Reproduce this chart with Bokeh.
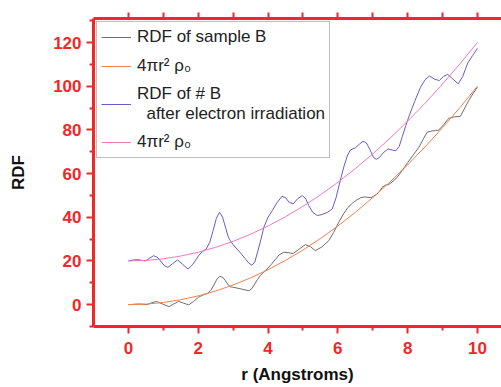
from bokeh.plotting import figure
from bokeh.models import Range1d, LinearAxis, Legend, LegendItem, FixedTicker
from bokeh.embed import file_html
from bokeh.resources import INLINE

# ---- data ----
r_gray = [0.0, 0.17, 0.34, 0.53, 0.66, 0.80, 0.98, 1.16, 1.30, 1.44, 1.58, 1.73, 1.87, 2.01,
          2.15, 2.27, 2.36, 2.45, 2.54, 2.62, 2.70, 2.78, 2.86, 2.92, 3.02, 3.11, 3.28, 3.45,
          3.53, 3.60, 3.70, 3.78, 3.88, 3.97, 4.10, 4.20, 4.32, 4.45, 4.58, 4.72, 4.90, 5.07,
          5.22, 5.36, 5.55, 5.74, 5.88, 6.02, 6.16, 6.29, 6.42, 6.55, 6.66, 6.77, 6.95, 7.12,
          7.20, 7.27, 7.36, 7.46, 7.58, 7.70, 7.85, 8.00, 8.16, 8.32, 8.45, 8.56, 8.70, 8.80,
          8.89, 9.04, 9.18, 9.35, 9.51, 9.62, 9.75, 9.88, 10.0]
rdf_gray = [0.0, 0.2, 0.3, 0.0, 0.8, 1.5, 0.3, -0.9, 0.3, 1.5, 0.7, -0.1, 1.5, 3.4,
            4.5, 5.2, 6.5, 9.0, 11.8, 13.0, 12.5, 11.0, 9.0, 8.2, 7.9, 7.6, 7.0, 6.4,
            7.2, 9.0, 11.5, 13.3, 15.0, 16.3, 18.5, 20.5, 22.8, 24.0, 23.8, 23.4, 25.5, 27.5,
            26.5, 24.7, 26.5, 29.3, 33.0, 37.5, 41.5, 44.5, 46.5, 48.0, 49.0, 49.3, 49.0, 50.5,
            52.0, 53.7, 54.7, 55.0, 56.5, 58.3, 61.5, 65.0, 68.5, 72.0, 75.8, 79.0, 79.5, 79.7,
            79.9, 82.5, 85.3, 86.0, 86.2, 89.5, 93.4, 96.8, 99.5]

r_blue = [0.0, 0.15, 0.29, 0.40, 0.49, 0.60, 0.72, 0.82, 0.92, 1.03, 1.13, 1.27, 1.41, 1.55,
          1.71, 1.85, 2.01, 2.12, 2.23, 2.33, 2.42, 2.52, 2.61, 2.70, 2.78, 2.86, 2.92, 3.00,
          3.11, 3.22, 3.35, 3.45, 3.54, 3.62, 3.70, 3.80, 3.88, 4.00, 4.12, 4.25, 4.40, 4.50,
          4.60, 4.72, 4.85, 4.98, 5.08, 5.17, 5.28, 5.41, 5.55, 5.71, 5.84, 5.95, 6.07, 6.18,
          6.27, 6.36, 6.50, 6.62, 6.72, 6.82, 6.92, 7.02, 7.10, 7.20, 7.30, 7.44, 7.56, 7.66,
          7.76, 7.85, 7.95, 8.03, 8.20, 8.37, 8.50, 8.63, 8.77, 8.91, 9.03, 9.15, 9.30, 9.45,
          9.58, 9.72, 9.86, 10.0]
rdf_blue = [20.0, 20.5, 20.6, 20.2, 20.0, 21.2, 22.4, 21.8, 20.0, 17.8, 17.1, 18.8, 20.5, 18.5,
            16.3, 18.5, 22.4, 24.3, 25.5, 28.5, 33.5, 39.5, 42.3, 40.0, 35.5, 31.0, 29.3, 27.5,
            25.5, 23.5, 21.0, 19.0, 18.0, 19.5, 24.0, 30.0, 35.4, 40.0, 43.0, 46.5, 49.6, 49.0,
            47.0, 46.1, 48.5, 49.9, 48.5, 45.3, 42.3, 40.8, 41.3, 42.3, 43.8, 49.0, 56.8, 63.5,
            68.0, 70.8, 71.8, 73.5, 74.8, 74.0, 71.0, 67.5, 66.5, 67.5, 69.5, 71.3, 70.8, 70.4,
            72.5, 77.0, 82.0, 85.8, 93.0, 99.5, 103.0, 104.7, 103.2, 102.6, 104.5, 105.4, 103.2, 101.1,
            104.5, 110.5, 114.0, 117.3]

r_fit = [0.0, 0.5, 1.0, 1.5, 2.0, 2.5, 3.0, 3.5, 4.0, 4.5, 5.0, 5.5, 6.0, 6.5, 7.0, 7.5,
         8.0, 8.5, 9.0, 9.5, 10.0]
fit_orange = [0.0, 0.25, 1.0, 2.25, 4.0, 6.25, 9.0, 12.25, 16.0, 20.25, 25.0, 30.25, 36.0,
              42.25, 49.0, 56.25, 64.0, 72.25, 81.0, 90.25, 100.0]
fit_pink = [20.0, 20.25, 21.0, 22.25, 24.0, 26.25, 29.0, 32.25, 36.0, 40.25, 45.0, 50.25, 56.0,
            62.25, 69.0, 76.25, 84.0, 92.25, 101.0, 110.25, 120.0]

labels = ["RDF of sample B", "4\u03c0r\u00b2 \u03c1\u2080",
          "RDF of # B\n\u00a0\u00a0after electron irradiation", "4\u03c0r\u00b2 \u03c1\u2080"]
x_major = [0, 2, 4, 6, 8, 10]
x_minor = [1, 3, 5, 7, 9]
y_major = [0, 20, 40, 60, 80, 100, 120]
y_minor = [-10, 10, 30, 50, 70, 90, 110, 130]

RED = "#F02828"

p = figure(width=501, height=387, output_backend="svg", toolbar_location=None,
           x_range=Range1d(-1, 10.69), y_range=Range1d(-10, 131),
           min_border_left=93, min_border_right=0, min_border_top=18, min_border_bottom=61)
p.grid.visible = False
p.outline_line_color = None
p.background_fill_color = "white"
p.border_fill_color = "white"

g1 = p.line(r_gray, rdf_gray, line_color="#6E6E6E", line_width=1)
g2 = p.line(r_fit, fit_orange, line_color="#F5804E", line_width=1)
g3 = p.line(r_blue, rdf_blue, line_color="#6A5CC4", line_width=1)
g4 = p.line(r_fit, fit_pink, line_color="#F27AB8", line_width=1)

xt = FixedTicker(ticks=x_major, minor_ticks=x_minor)
yt = FixedTicker(ticks=y_major, minor_ticks=y_minor)

def style(ax):
    ax.axis_line_color = RED
    ax.axis_line_width = 3
    ax.major_tick_line_color = RED
    ax.major_tick_line_width = 2
    ax.minor_tick_line_color = RED
    ax.minor_tick_line_width = 2
    ax.major_tick_out = 7
    ax.major_tick_in = 0
    ax.minor_tick_out = 4
    ax.minor_tick_in = 0
    ax.major_label_text_color = RED
    ax.major_label_text_font = "Liberation Sans"
    ax.major_label_text_font_style = "bold"
    ax.major_label_text_font_size = "17px"
    ax.axis_label_text_font = "Liberation Sans"
    ax.axis_label_text_font_style = "bold"
    ax.axis_label_text_font_size = "17px"
    ax.axis_label_text_color = "#111111"

xa = p.xaxis[0]
xa.ticker = xt
style(xa)
xa.axis_label = "r (Angstroms)"
xa.major_label_standoff = 8
xa.axis_label_standoff = 8

ya = p.yaxis[0]
ya.ticker = yt
style(ya)
ya.axis_label = "RDF"
ya.major_label_standoff = 5
ya.axis_label_standoff = 22

# top spine: ticks only, no labels
top = LinearAxis(ticker=FixedTicker(ticks=[], minor_ticks=sorted(x_major + x_minor)))
style(top)
top.minor_tick_out = 6
p.add_layout(top, "above")

legend = Legend(items=[LegendItem(label=labels[0], renderers=[g1]),
                       LegendItem(label=labels[1], renderers=[g2]),
                       LegendItem(label=labels[2], renderers=[g3]),
                       LegendItem(label=labels[3], renderers=[g4])],
                location="top_left", margin=3, padding=4, spacing=7,
                glyph_width=30, glyph_height=20, label_height=22, label_standoff=6,
                label_text_font="Liberation Sans", label_text_font_size="17px",
                label_text_line_height=1.3,
                label_text_color="#222222",
                border_line_color="#808080", border_line_width=1,
                background_fill_color="white", background_fill_alpha=1)
p.add_layout(legend)

open("out.html", "w").write(file_html(p, INLINE))
